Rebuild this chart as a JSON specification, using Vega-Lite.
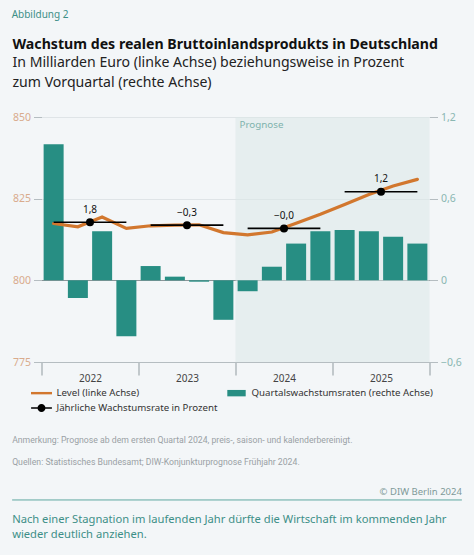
{"$schema":"https://vega.github.io/schema/vega-lite/v6.json","background":"#f3f6f8","padding":{"left":11.5,"top":9,"right":12,"bottom":8},"config":{"view":{"stroke":null},"font":"Noto Sans"},"title":{"text":"Abbildung 2","anchor":"start","frame":"bounds","fontSize":10,"fontWeight":"normal","color":"#3d8f87","offset":18},"datasets":{"quartale":[{"q":"2022Q1","t":0.5,"level":817.4,"rate":1.0},{"q":"2022Q2","t":1.5,"level":816.4,"rate":-0.13},{"q":"2022Q3","t":2.5,"level":819.4,"rate":0.36},{"q":"2022Q4","t":3.5,"level":815.9,"rate":-0.41},{"q":"2023Q1","t":4.5,"level":816.7,"rate":0.105},{"q":"2023Q2","t":5.5,"level":816.9,"rate":0.027},{"q":"2023Q3","t":6.5,"level":817.0,"rate":-0.01},{"q":"2023Q4","t":7.5,"level":814.6,"rate":-0.29},{"q":"2024Q1","t":8.5,"level":813.9,"rate":-0.08},{"q":"2024Q2","t":9.5,"level":814.8,"rate":0.1},{"q":"2024Q3","t":10.5,"level":817.5,"rate":0.27},{"q":"2024Q4","t":11.5,"level":820.2,"rate":0.36},{"q":"2025Q1","t":12.5,"level":823.2,"rate":0.37},{"q":"2025Q2","t":13.5,"level":826.3,"rate":0.36},{"q":"2025Q3","t":14.5,"level":828.9,"rate":0.32},{"q":"2025Q4","t":15.5,"level":830.9,"rate":0.27}],"jahre":[{"jahr":2022,"mitte":2,"von":0.5,"bis":3.5,"wert":817.8,"label":"1,8"},{"jahr":2023,"mitte":6,"von":4.5,"bis":7.5,"wert":816.9,"label":"−0,3"},{"jahr":2024,"mitte":10,"von":8.5,"bis":11.5,"wert":815.9,"label":"−0,0"},{"jahr":2025,"mitte":14,"von":12.5,"bis":15.5,"wert":827.1,"label":"1,2"}],"fuss":[{"text":"Anmerkung: Prognose ab dem ersten Quartal 2024, preis-, saison- und kalenderbereinigt.","zeile":0.36},{"text":"Quellen: Statistisches Bundesamt; DIW-Konjunkturprognose Frühjahr 2024.","zeile":1.93}],"schluss":[{"text":"Nach einer Stagnation im laufenden Jahr dürfte die Wirtschaft im kommenden Jahr","zeile":6.07},{"text":"wieder deutlich anziehen.","zeile":7.14}]},"spacing":43,"vconcat":[{"width":388,"height":245,"title":{"text":"Wachstum des realen Bruttoinlandsprodukts in Deutschland","subtitle":["In Milliarden Euro (linke Achse) beziehungsweise in Prozent","zum Vorquartal (rechte Achse)"],"anchor":"start","frame":"bounds","fontSize":14.15,"fontWeight":"bold","color":"#111111","subtitleFontSize":14.1,"subtitleColor":"#222222","subtitleLineHeight":20,"subtitlePadding":4,"subtitleFont":"Noto Sans","offset":22},"resolve":{"scale":{"y":"independent"}},"layer":[{"data":{"values":[{"von":8,"bis":16}]},"mark":{"type":"rect","color":"#dbe8e7","opacity":0.55},"encoding":{"x":{"field":"von","type":"quantitative","scale":{"domain":[0,16],"nice":false,"zero":false,"padding":0},"axis":{"values":[0,1,2,3,4,5,6,7,8,9,10,11,12,13,14,15,16],"title":null,"grid":false,"domain":true,"domainColor":"#b5bdc1","tickColor":"#8f9a9f","tickSize":{"condition":{"test":"datum.value % 4 === 0","value":13},"value":4.5},"tickOpacity":{"condition":{"test":"(datum.value - 2) % 4 === 0","value":0},"value":1},"labelExpr":"(datum.value - 2) % 4 === 0 ? '' + (2022 + (datum.value - 2) / 4) : ''","labelPadding":7,"labelFontSize":10,"labelColor":"#444444","labelFlush":false,"labelOverlap":false,"labelAngle":0}},"x2":{"field":"bis"}}},{"data":{"name":"quartale"},"mark":{"type":"bar","color":"#278e83","size":20,"orient":"vertical"},"encoding":{"x":{"field":"t","type":"quantitative","scale":{"padding":0}},"y":{"field":"rate","type":"quantitative","scale":{"domain":[-0.6,1.2],"nice":false},"axis":{"orient":"right","values":[-0.6,0,0.6,1.2],"title":null,"grid":true,"gridColor":{"condition":{"test":"datum.value === 0","value":"#8b9599"},"value":"#dfe4e7"},"gridOpacity":{"condition":{"test":"datum.value === 0","value":1},"value":0},"domain":false,"tickSize":8,"tickColor":"#b5bdc1","labelColor":"#8ab7b2","labelFontSize":10.5,"labelPadding":3,"labelFlush":false,"labelExpr":"datum.value === 0 ? '0' : replace(replace(format(datum.value, '.1f'), '.', ','), '-', '−')"}}}},{"data":{"name":"quartale"},"mark":{"type":"line","color":"#d2772e","strokeWidth":3.2,"strokeCap":"round"},"encoding":{"x":{"field":"t","type":"quantitative"},"y":{"field":"level","type":"quantitative","scale":{"domain":[775,850],"nice":false,"zero":false},"axis":{"orient":"left","values":[775,800,825,850],"title":null,"grid":true,"gridColor":"#dfe4e7","gridOpacity":{"condition":{"test":"datum.value >= 825","value":1},"value":0},"domain":false,"tickSize":8,"tickColor":"#b5bdc1","labelColor":"#d9ab8c","labelFontSize":10.5,"labelPadding":3,"labelFlush":false}}}},{"data":{"name":"jahre"},"mark":{"type":"rule","color":"#000000","strokeWidth":1.6},"encoding":{"x":{"field":"von","type":"quantitative"},"x2":{"field":"bis"},"y":{"field":"wert","type":"quantitative","scale":{"domain":[775,850],"nice":false,"zero":false},"axis":null}}},{"data":{"name":"jahre"},"mark":{"type":"point","filled":true,"color":"#000000","size":64,"opacity":1},"encoding":{"x":{"field":"mitte","type":"quantitative"},"y":{"field":"wert","type":"quantitative","scale":{"domain":[775,850],"nice":false,"zero":false},"axis":null}}},{"data":{"name":"jahre"},"mark":{"type":"text","dy":-12.5,"fontSize":10,"color":"#111111"},"encoding":{"x":{"field":"mitte","type":"quantitative"},"y":{"field":"wert","type":"quantitative","scale":{"domain":[775,850],"nice":false,"zero":false},"axis":null},"text":{"field":"label"}}},{"data":{"values":[{"von":8,"oben":850,"text":"Prognose"}]},"mark":{"type":"text","align":"left","dx":4,"dy":8,"fontSize":9.8,"color":"#7fb3ad"},"encoding":{"x":{"field":"von","type":"quantitative"},"y":{"field":"oben","type":"quantitative","scale":{"domain":[775,850],"nice":false,"zero":false},"axis":null},"text":{"field":"text"}}},{"data":{"values":[]},"mark":{"type":"point","filled":true,"opacity":1},"encoding":{"color":{"field":"reihe","type":"nominal","scale":{"domain":["Level (linke Achse)","Quartalswachstumsraten (rechte Achse)","Jährliche Wachstumsrate in Prozent"],"range":["#d2772e","#278e83","#000000"]},"legend":{"orient":"none","legendX":-8,"legendY":268,"direction":"horizontal","columns":2,"columnPadding":8,"rowPadding":2,"title":null,"symbolSize":256,"symbolStrokeWidth":0,"symbolOpacity":1,"labelFontSize":9.7,"labelColor":"#333333","labelOffset":7,"padding":0,"labelLimit":300}},"shape":{"field":"reihe","type":"nominal","scale":{"domain":["Level (linke Achse)","Quartalswachstumsraten (rechte Achse)","Jährliche Wachstumsrate in Prozent"],"range":["M-1.31,-0.15H1.31V0.15H-1.31Z","M-1.15,-0.4H1.15V0.4H-1.15Z","M-1.3,-0.1H1.3V0.1H-1.3Z M-0.5,0A0.5,0.5 0 1,1 0.5,0A0.5,0.5 0 1,1 -0.5,0Z"]}}}}]},{"width":388,"height":112,"layer":[{"data":{"name":"fuss"},"mark":{"type":"text","align":"left","font":"Roboto","fontSize":8.7,"color":"#9aa1a5"},"encoding":{"x":{"datum":-0.0757,"type":"quantitative","scale":{"domain":[0,1],"nice":false,"zero":false},"axis":null},"y":{"field":"zeile","type":"quantitative","scale":{"domain":[0,8],"reverse":true,"nice":false},"axis":null},"text":{"field":"text"}}},{"data":{"values":[{"text":"© DIW Berlin 2024","zeile":4.07}]},"mark":{"type":"text","align":"right","fontSize":9.5,"color":"#7f9a99"},"encoding":{"x":{"datum":1.0835,"type":"quantitative"},"y":{"field":"zeile","type":"quantitative"},"text":{"field":"text"}}},{"data":{"values":[{"von":-0.0757,"bis":1.0835,"zeile":4.64}]},"mark":{"type":"rule","color":"#5fa8a0","strokeWidth":1},"encoding":{"x":{"field":"von","type":"quantitative"},"x2":{"field":"bis"},"y":{"field":"zeile","type":"quantitative"}}},{"data":{"name":"schluss"},"mark":{"type":"text","align":"left","fontSize":11.2,"color":"#3d8f87"},"encoding":{"x":{"datum":-0.0757,"type":"quantitative"},"y":{"field":"zeile","type":"quantitative"},"text":{"field":"text"}}}]}]}
